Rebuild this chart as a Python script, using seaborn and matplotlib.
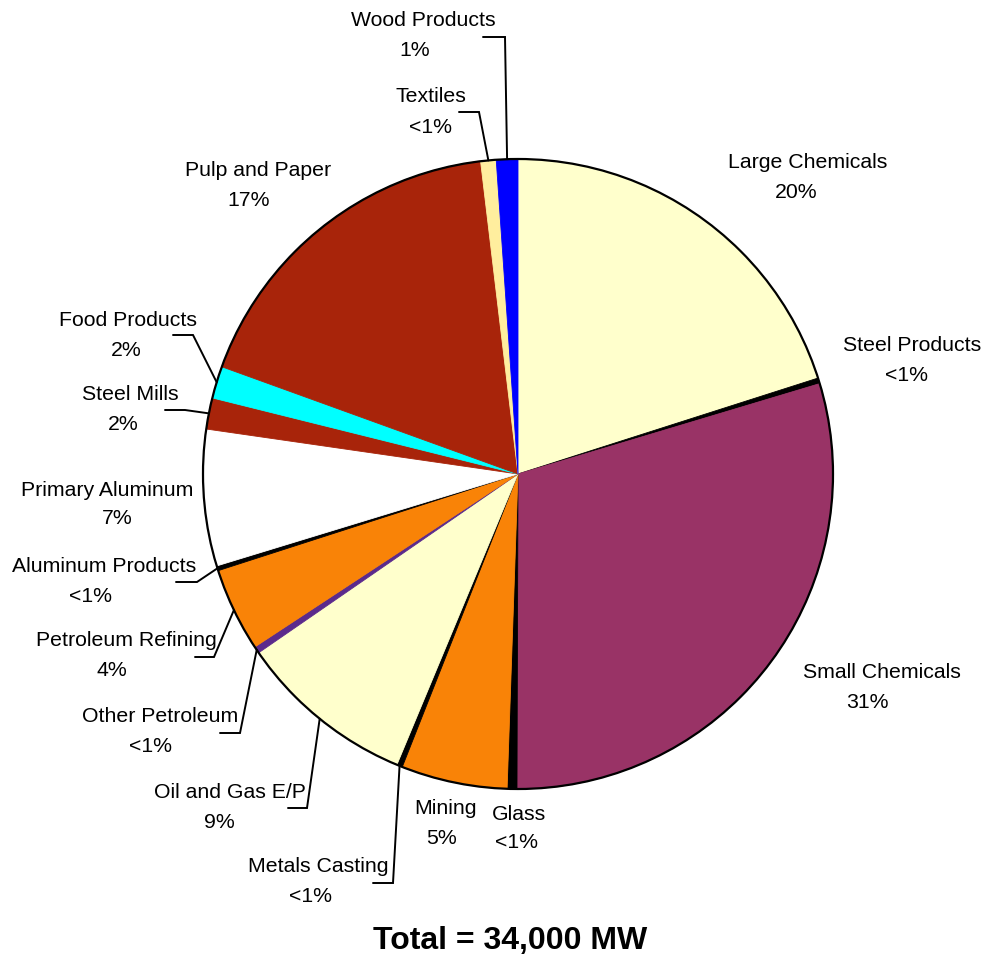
import matplotlib
matplotlib.use("Agg")
import matplotlib.pyplot as plt
import seaborn as sns
import numpy as np
from matplotlib.patches import Circle

# sector data, clockwise from 12 o'clock (MW)
sectors = ["Large Chemicals", "Steel Products", "Small Chemicals", "Glass", "Mining",
           "Metals Casting", "Oil and Gas E/P", "Other Petroleum", "Petroleum Refining",
           "Aluminum Products", "Primary Aluminum", "Steel Mills", "Food Products",
           "Pulp and Paper", "Textiles", "Wood Products"]
capacity_mw = [6830, 100, 10100, 170, 1850, 100, 3100, 120, 1460, 85, 2380, 545, 560,
               5980, 270, 375]
pct_labels = ["20%", "<1%", "31%", "<1%", "5%", "<1%", "9%", "<1%", "4%", "<1%", "7%",
              "2%", "2%", "17%", "<1%", "1%"]
colors = ["#FFFFCC", "#000000", "#993366", "#000000", "#F98307", "#000000", "#FFFFCC",
          "#5B2A8C", "#F98307", "#000000", "#FFFFFF", "#A8240A", "#00FFFF", "#A8240A",
          "#FFEE9E", "#0000FF"]

# label layout in pixel coords (y from top): name centre, pct centre
name_pos = [(808, 160), (912, 343), (882, 670), (519, 812), (446, 807), (318, 865),
            (230, 790), (160, 715), (126, 638), (104, 565), (107, 488), (130, 392),
            (128, 318), (258, 168), (431, 94), (423, 18)]
pct_pos = [(796, 190), (906, 373), (867, 700), (517, 841), (442, 837), (310, 895),
           (219, 820), (151, 744), (112, 668), (91, 594), (117, 517), (123, 422),
           (126, 348), (249, 198), (430, 125), (415, 48)]
# leader lines: elbow and end point
leaders = {
    "Metals Casting": ((393, 883), (373, 883)),
    "Oil and Gas E/P": ((307, 808), (288, 808)),
    "Other Petroleum": ((240, 733), (220, 733)),
    "Petroleum Refining": ((214, 657), (195, 657)),
    "Aluminum Products": ((197, 582), (176, 582)),
    "Steel Mills": ((185, 410), (165, 410)),
    "Food Products": ((193, 335), (173, 335)),
    "Textiles": ((479, 112), (459, 112)),
    "Wood Products": ((505, 37), (483, 37)),
}

W, H = 985, 958
cx, cy, R = 518, 474, 315
dy_txt = 2  # small nudge so text sits like the original

sns.set_theme(style="white")
plt.rcParams["font.family"] = ["Liberation Sans", "DejaVu Sans"]

fig = plt.figure(figsize=(W / 100, H / 100), dpi=100)
ax = fig.add_axes([0, 0, 1, 1])

wedges, _ = ax.pie(capacity_mw, colors=colors, startangle=90, counterclock=False,
                   center=(cx, H - cy), radius=R, wedgeprops=dict(linewidth=0.6))
for w in wedges:
    w.set_edgecolor(w.get_facecolor())
ax.add_patch(Circle((cx, H - cy), R, fill=False, edgecolor="black", linewidth=1.6, zorder=3))

for i, w in enumerate(wedges):
    name = sectors[i]
    ax.text(name_pos[i][0], H - name_pos[i][1] - dy_txt, name, ha="center", va="center",
            fontsize=15.3, color="black")
    ax.text(pct_pos[i][0], H - pct_pos[i][1] - dy_txt, pct_labels[i], ha="center",
            va="center", fontsize=15.3, color="black")
    if name in leaders:
        mid = np.deg2rad((w.theta1 + w.theta2) / 2)
        sx, sy = cx + R * np.cos(mid), (H - cy) + R * np.sin(mid)
        (ex, ey), (tx, ty) = leaders[name]
        ax.plot([sx, ex, tx], [sy, H - ey, H - ty], color="black", linewidth=1.4,
                solid_joinstyle="miter", zorder=4)

ax.text(510, H - 941, "Total = 34,000 MW", ha="center", va="center",
        fontsize=23, fontweight="bold", color="black")

ax.set_xlim(0, W)
ax.set_ylim(0, H)
ax.set_aspect("equal")
ax.axis("off")

plt.savefig("out.png", dpi=100, facecolor="white")
